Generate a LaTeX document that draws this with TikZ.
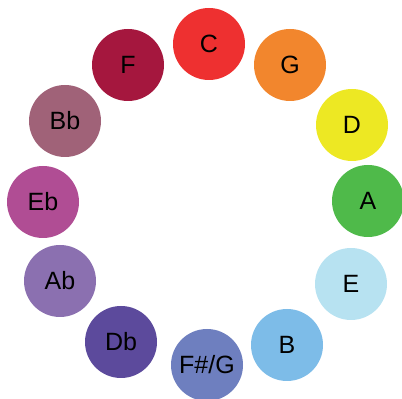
\documentclass[tikz,border=0pt]{standalone}
\usepackage{fontspec}
\setmainfont{Liberation Sans}
\begin{document}
\begin{tikzpicture}[x=1pt,y=1pt,
  key/.style={circle,minimum size=72pt,inner sep=0pt,fill=#1,
    font=\fontsize{25}{25}\selectfont,text=black}]
\useasboundingbox (0,0) rectangle (402,399);
\definecolor{cC}{HTML}{EE3030}
\definecolor{cG}{HTML}{F2862D}
\definecolor{cD}{HTML}{EDE823}
\definecolor{cA}{HTML}{4FBA4A}
\definecolor{cE}{HTML}{B7E2F1}
\definecolor{cB}{HTML}{7DBCE8}
\definecolor{cFs}{HTML}{6E7FBF}
\definecolor{cDb}{HTML}{5C4A9C}
\definecolor{cAb}{HTML}{8B70B0}
\definecolor{cEb}{HTML}{B04D94}
\definecolor{cBb}{HTML}{A06278}
\definecolor{cF}{HTML}{A5173E}
\node[key=cC]  (C)  at (209,355) {C};
\node[key=cG]  (G)  at (290,334) {G};
\node[key=cD]  (D)  at (352,274) {D};
\node[key=cA]  (A)  at (368,198) {A};
\node[key=cE]  (E)  at (351,115) {E};
\node[key=cB]  (B)  at (287,54)  {B};
\node[key=cFs] (Fs) at (207,34)  {F\#/G};
\node[key=cDb] (Db) at (121,57)  {Db};
\node[key=cAb] (Ab) at (60,118)  {Ab};
\node[key=cEb] (Eb) at (43,197)  {Eb};
\node[key=cBb] (Bb) at (65,278)  {Bb};
\node[key=cF]  (F)  at (128,334) {F};
\end{tikzpicture}
\end{document}
